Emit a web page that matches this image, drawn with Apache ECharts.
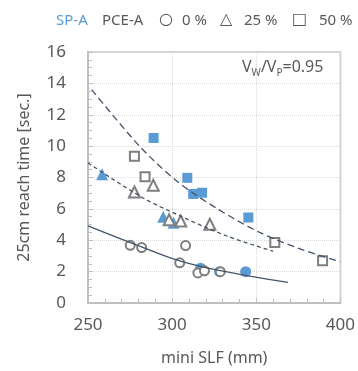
<!DOCTYPE html>
<html>
<head>
<meta charset="utf-8">
<script src="https://cdn.jsdelivr.net/npm/echarts@6/dist/echarts.min.js"></script>
<style>
  html, body { margin: 0; padding: 0; background: #fff; }
  #chart { width: 358px; height: 371px; }
</style>
</head>
<body>
<div id="chart"></div>
<script>
// SP-A (blue filled)
var spA0 = [[316.9, 2.22], [328.2, 2.0], [343.7, 2.0]];
var spA25 = [[258.4, 8.2], [294.7, 5.5], [300.8, 5.12]];
var spA50 = [[289, 10.52], [309, 7.98], [312.5, 6.95], [317.8, 7.03], [345.3, 5.45]];
// PCE-A (gray hollow)
var pce0 = [[275.1, 3.68], [281.9, 3.53], [304.5, 2.56], [308, 3.66], [315.3, 1.92], [319.2, 2.05], [328.6, 2.0]];
var pce25 = [[277.6, 7.08], [288.8, 7.5], [298.2, 5.3], [305.1, 5.23], [322.4, 5.02]];
var pce50 = [[277.6, 9.36], [283.9, 8.04], [361, 3.86], [389.4, 2.7]];
// trend lines
var trend0 = [[250, 4.91], [277.6, 3.75], [301.2, 2.79], [322, 2.2], [347, 1.7], [368.8, 1.31]];
var trend25 = [[250, 8.93], [282.5, 6.71], [307, 5.44], [333, 4.25], [360, 3.3]];
var trend50 = [[252.2, 13.6], [280.6, 10.0], [303, 7.75], [327, 6.0], [352, 4.5], [376, 3.45], [400, 2.62]];

var blue = '#5B9BD5';
var gray = '#7F7F7F';
var navy = '#44546A';
var txt = '#595959';
var font = 'Noto Sans';

function blueSeries(data, symbol, size) {
  return {
    type: 'scatter', data: data, symbol: symbol, symbolSize: size, z: 2,
    itemStyle: { color: blue, opacity: 1 }
  };
}
function graySeries(data, symbol, size) {
  return {
    type: 'scatter', data: data, symbol: symbol, symbolSize: size, z: 3,
    itemStyle: { color: '#fff', borderColor: gray, borderWidth: 2, opacity: 1 }
  };
}
function trendSeries(data, dash) {
  return {
    type: 'line', data: data, smooth: 0.3, symbol: 'none', z: 4,
    lineStyle: { color: navy, width: 1.3, type: dash }
  };
}

// legend is plain text in the original, not a real legend
var legendRich = {
  b: { fontFamily: font, fontSize: 15, fill: blue },
  t: { fontFamily: font, fontSize: 15, fill: txt },
  y: { fontFamily: 'DejaVu Sans', fontSize: 16, fill: txt }
};

var chart = echarts.init(document.getElementById('chart'));
chart.setOption({
  animation: false,
  grid: {
    left: 88, right: 15, top: 52, bottom: 67,
    show: true, borderColor: '#d4d4d4', borderWidth: 2
  },
  xAxis: {
    type: 'value', min: 250, max: 400, interval: 50,
    name: 'mini SLF (mm)', nameLocation: 'middle', nameGap: 47,
    nameTextStyle: { fontFamily: font, fontSize: 16, color: txt },
    axisLine: { lineStyle: { color: '#bfbfbf', width: 2 } },
    axisTick: { show: true, inside: true, length: 5, lineStyle: { color: '#bfbfbf' } },
    minorTick: { show: true, splitNumber: 5, length: 4, lineStyle: { color: '#bfbfbf' } },
    axisLabel: { fontFamily: font, fontSize: 17, color: txt, margin: 14 },
    splitLine: { show: true, lineStyle: { color: '#d9d9d9', type: 'dotted' } }
  },
  yAxis: {
    type: 'value', min: 0, max: 16, interval: 2,
    name: '25cm reach time [sec.]', nameLocation: 'middle', nameGap: 56,
    nameTextStyle: { fontFamily: font, fontSize: 16, color: txt },
    axisLine: { show: true, lineStyle: { color: '#bfbfbf', width: 2 } },
    axisTick: { show: true, inside: true, length: 5, lineStyle: { color: '#bfbfbf' } },
    minorTick: { show: true, splitNumber: 4, length: 4, lineStyle: { color: '#bfbfbf' } },
    axisLabel: { fontFamily: font, fontSize: 17, color: txt, margin: 22 },
    splitLine: { show: true, lineStyle: { color: '#d9d9d9', type: 'dotted' } }
  },
  graphic: [
    { type: 'text', left: 56, top: 13, style: { text: '{b|SP-A}', rich: legendRich } },
    { type: 'text', left: 102, top: 13, style: { text: '{t|PCE-A}', rich: legendRich } },
    { type: 'text', left: 159, top: 12, style: { text: '{y|○}', rich: legendRich } },
    { type: 'text', left: 182, top: 13, style: { text: '{t|0 %}', rich: legendRich } },
    { type: 'text', left: 220, top: 12, style: { text: '{y|△}', rich: legendRich } },
    { type: 'text', left: 244, top: 13, style: { text: '{t|25 %}', rich: legendRich } },
    { type: 'text', left: 292, top: 12, style: { text: '{y|□}', rich: legendRich } },
    { type: 'text', left: 319, top: 13, style: { text: '{t|50 %}', rich: legendRich } },
    {
      type: 'text', left: 242, top: 59,
      style: {
        text: '{m|V}{s|W}{m|/V}{s|P}{m|=0.95}',
        rich: {
          m: { fontFamily: font, fontSize: 16, fill: txt, lineHeight: 22, verticalAlign: 'middle' },
          s: { fontFamily: font, fontSize: 10, fill: txt, lineHeight: 22, verticalAlign: 'bottom' }
        }
      }
    }
  ],
  series: [
    blueSeries(spA0, 'circle', 11),
    blueSeries(spA25, 'triangle', 12),
    blueSeries(spA50, 'rect', 10),
    graySeries(pce0, 'circle', 9),
    graySeries(pce25, 'triangle', 11),
    graySeries(pce50, 'rect', 9),
    trendSeries(trend0, 'solid'),
    trendSeries(trend25, [4, 3]),
    trendSeries(trend50, [7, 4])
  ]
});
</script>
</body>
</html>
